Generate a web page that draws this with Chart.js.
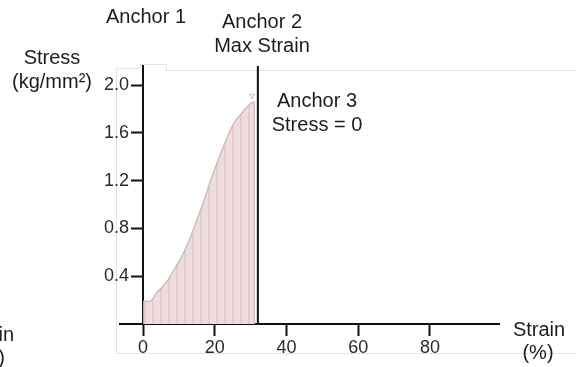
<!DOCTYPE html>
<html>
<head>
<meta charset="utf-8">
<script src="https://cdn.jsdelivr.net/npm/chart.js@4.4.1/dist/chart.umd.min.js"></script>
<style>
  html, body { margin: 0; padding: 0; background: #ffffff; }
  #wrap { width: 576px; height: 367px; position: relative; }
</style>
</head>
<body>
<div id="wrap"><canvas id="c" width="576" height="367"></canvas></div>
<script>
// Stress–strain curve up to the maximum strain point
const strainPct = [0, 1.9, 3.7, 6.5, 9.3, 11.2, 14.0, 16.7, 19.5, 22.3, 25.1, 27.9, 30.2, 31.0];
const stressKg  = [0.19, 0.19, 0.26, 0.35, 0.49, 0.59, 0.79, 1.01, 1.26, 1.48, 1.67, 1.78, 1.85, 1.86];

// Anchor 2: maximum strain (%)
const maxStrainPct = 32;
// Small marker sitting on the curve peak
const peakMarker = [{ x: 30.4, y: 1.91 }];

// Axis ranges and ticks
const xRange = [-6.45, 99.25];
const yRange = [0, 2.159];
const xTicks = [0, 20, 40, 60, 80];
const yTicks = [0.4, 0.8, 1.2, 1.6, 2.0];

// Annotation texts: [text, x, baseline y, align]
const notes = [
  ['Anchor 1', 146, 23, 'center'],
  ['Anchor 2', 262, 28, 'center'],
  ['Max Strain', 262, 52, 'center'],
  ['Stress', 52, 64, 'center'],
  ['(kg/mm\u00B2)', 52, 88, 'center'],
  ['Anchor 3', 317, 107, 'center'],
  ['Stress = 0', 317, 131, 'center'],
  ['Strain', 539, 336, 'center'],
  ['(%)', 538, 359, 'center'],
  ['Strain', 14, 341, 'right'],
  ['(%)', 5, 364, 'right']
];

const FONT = '"Liberation Sans", Arial, sans-serif';
const INK = '#1c1c1c';

// Striped pink fill for the area under the curve
function stripePattern() {
  const p = document.createElement('canvas');
  p.width = 8; p.height = 4;
  const g = p.getContext('2d');
  g.fillStyle = '#efdcdc';
  g.fillRect(0, 0, 8, 4);
  g.fillStyle = '#e5cbce';
  g.fillRect(0, 0, 2, 4);
  return document.getElementById('c').getContext('2d').createPattern(p, 'repeat');
}

const curve = strainPct.map((x, i) => ({ x, y: stressKg[i] }));
const last = curve[curve.length - 1];
const dropLine = [last, { x: last.x, y: 0 }];
const maxStrainLine = [{ x: maxStrainPct, y: yRange[0] }, { x: maxStrainPct, y: yRange[1] }];

const annotate = {
  id: 'annotate',
  beforeDraw(chart) {
    // faint frame behind the plot
    const ctx = chart.ctx;
    ctx.save();
    ctx.strokeStyle = '#e3e3e3';
    ctx.lineWidth = 1;
    ctx.beginPath();
    ctx.moveTo(116.5, 353.5);
    ctx.lineTo(116.5, 68.5);
    ctx.lineTo(140.5, 68.5);
    ctx.lineTo(140.5, 64.5);
    ctx.lineTo(166.5, 64.5);
    ctx.lineTo(166.5, 70.5);
    ctx.lineTo(576, 70.5);
    ctx.moveTo(116.5, 353.5);
    ctx.lineTo(576, 353.5);
    ctx.stroke();
    ctx.restore();
  },
  afterDraw(chart) {
    const ctx = chart.ctx;
    ctx.save();
    ctx.fillStyle = INK;
    ctx.font = '20px ' + FONT;
    ctx.textBaseline = 'alphabetic';
    notes.forEach(([t, x, y, a]) => {
      ctx.textAlign = a;
      ctx.fillText(t, x, y);
    });
    ctx.restore();
  }
};

new Chart(document.getElementById('c'), {
  type: 'line',
  data: {
    datasets: [
      {
        data: curve,
        borderColor: '#c2b6b6',
        borderWidth: 1.2,
        backgroundColor: stripePattern(),
        fill: 'origin',
        cubicInterpolationMode: 'monotone',
        pointRadius: 0,
        order: 4
      },
      {
        data: dropLine,
        borderColor: '#cfc4c4',
        borderWidth: 1,
        pointRadius: 0,
        fill: false,
        order: 3
      },
      {
        data: peakMarker,
        showLine: false,
        pointStyle: 'triangle',
        rotation: 180,
        pointRadius: 3,
        pointBackgroundColor: '#ffffff',
        pointBorderColor: '#c8c0c0',
        pointBorderWidth: 1,
        order: 2
      },
      {
        data: maxStrainLine,
        borderColor: '#111111',
        borderWidth: 2,
        pointRadius: 0,
        fill: false,
        order: 1
      }
    ]
  },
  options: {
    responsive: false,
    animation: false,
    devicePixelRatio: 1,
    layout: { padding: { left: 120, right: 77, top: 66, bottom: 43 } },
    plugins: { legend: { display: false }, tooltip: { enabled: false } },
    scales: {
      x: {
        type: 'linear',
        position: { y: 0 },
        min: xRange[0],
        max: xRange[1],
        afterBuildTicks(s) { s.ticks = xTicks.map(v => ({ value: v })); },
        border: { display: true, color: '#111111', width: 2 },
        grid: { drawOnChartArea: false, drawTicks: true, tickLength: 11, tickWidth: 2, tickColor: '#111111' },
        ticks: { color: '#2a2a2a', font: { family: FONT, size: 18 }, padding: 2, maxRotation: 0 }
      },
      y: {
        type: 'linear',
        position: { x: 0 },
        min: yRange[0],
        max: yRange[1],
        afterBuildTicks(s) { s.ticks = yTicks.map(v => ({ value: v })); },
        border: { display: true, color: '#111111', width: 2 },
        grid: { drawOnChartArea: false, drawTicks: true, tickLength: 11, tickWidth: 2, tickColor: '#111111' },
        // labels sit right-aligned on the axis line; trailing spaces clear the tick marks
        ticks: { color: '#2a2a2a', font: { family: FONT, size: 18 }, callback: v => Number(v).toFixed(1) + '\u2002 ' }
      }
    }
  },
  plugins: [annotate]
});
</script>
</body>
</html>
